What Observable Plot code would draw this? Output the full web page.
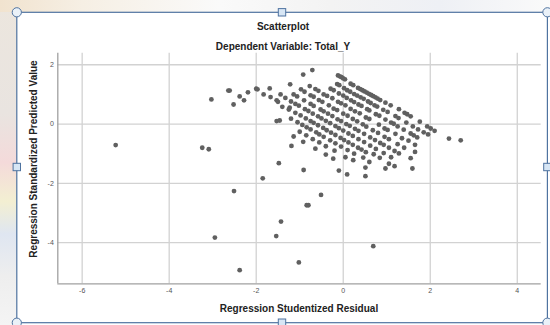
<!DOCTYPE html>
<html><head><meta charset="utf-8">
<script src="https://cdn.jsdelivr.net/npm/d3@7"></script>
<script src="https://cdn.jsdelivr.net/npm/@observablehq/plot@0.6"></script>
<style>
html,body{margin:0;padding:0;background:#fff;}
#wrap{position:relative;width:550px;height:325px;overflow:hidden;font-family:"Liberation Sans",Arial,sans-serif;background:#fff;}
#bgl{position:absolute;left:0;top:0;width:17px;height:325px;background:linear-gradient(#ece6de 0%,#e9e4e0 35%,#f4dada 50%,#f3efd2 62%,#dfe6f1 72%,#eeeeee 85%,#f4f4f4 100%);}
#bgt{position:absolute;left:0;top:0;width:550px;height:12px;background:linear-gradient(90deg,#f1e3cf 0%,#f6efe4 15%,#fafafa 40%,#f3f3f3 60%,#eef0f5 80%,#fafafa 100%);}
.t{position:absolute;left:0;width:566px;text-align:center;font-weight:bold;font-size:10px;color:#222;white-space:nowrap;}
#title{top:21px;}
#sub{top:40.5px;}
#chart{position:absolute;left:0;top:50px;}
#xt{position:absolute;top:302.5px;left:0;width:598px;text-align:center;font-weight:bold;font-size:10px;color:#222;}
#yt{position:absolute;left:33px;top:158.5px;transform:translate(-50%,-50%) rotate(-90deg);font-weight:bold;font-size:10px;color:#222;white-space:nowrap;}
#frame{position:absolute;left:0;top:0;}
</style></head><body>
<div id="wrap">
  <div id="bgl"></div>
  <div id="bgt"></div>
  <div class="t" id="title">Scatterplot</div>
  <div class="t" id="sub">Dependent Variable: Total_Y</div>
  <div id="chart"></div>
  <div id="xt">Regression Studentized Residual</div>
  <div id="yt">Regression Standardized Predicted Value</div>
</div>
<script>
// Axis ticks
const xTicks = [-6, -4, -2, 0, 2, 4];
const yTicks = [2, 0, -2, -4];

// Sparse points and outliers: [studentized residual, standardized predicted]
const sparse = [
  [-5.23,-0.71],[-3.24,-0.80],[-3.09,-0.85],[-3.03,0.83],[-2.64,1.13],[-2.61,1.13],[-2.52,0.66],
  [-2.38,0.93],[-2.28,0.80],[-2.19,1.07],[-2.00,1.19],[-1.97,1.17],[-1.83,1.00],[-1.69,1.20],
  [-1.67,0.91],[-1.53,0.80],[-1.50,0.75],[-1.44,1.00],[-1.40,0.58],[-1.33,0.88],[-1.25,0.49],
  [-1.23,0.55],[-1.22,1.34],[-1.53,0.10],[-1.46,0.12],[-1.19,-0.74],[-1.14,-0.42],[-1.48,-1.32],
  [-1.85,-1.83],[-2.51,-2.26],[-1.43,-3.29],[-1.54,-3.78],[-2.95,-3.83],[-2.38,-4.93],[-0.51,-2.39],
  [-0.84,-2.74],[-0.80,-2.74],[0.69,-4.12],[-1.02,-4.67],[-0.91,-1.55],[-0.92,1.67],[-0.71,1.82]
];

// Dense diagonal bands (band by band)
const band1 = [
  [-0.12,1.64],[-0.08,1.61],[-0.04,1.58],[0.00,1.54],[0.04,1.51],[0.17,1.36],[0.23,1.31],[0.34,1.22],
  [0.39,1.18],[0.44,1.14],[0.49,1.10],[0.54,1.06],[0.59,1.02],[0.64,0.98],[0.69,0.94],[0.74,0.90],
  [0.79,0.86],[0.85,0.81],[0.97,0.72],[1.09,0.63],[1.28,0.50],[1.41,0.38],[1.47,0.33],[1.55,0.26],
  [1.76,0.08],[1.93,-0.08],[2.01,-0.15],[2.10,-0.23],[2.43,-0.49],[2.70,-0.55]
];
const band2 = [
  [-0.14,1.35],[-0.09,1.31],[0.02,1.21],[0.09,1.14],[0.16,1.09],[0.25,1.01],[0.32,0.96],[0.40,0.90],
  [0.47,0.85],[0.57,0.76],[0.63,0.71],[0.72,0.63],[0.78,0.59],[0.92,0.48],[1.02,0.41],[1.20,0.27],
  [1.27,0.20],[1.45,0.05],[1.60,-0.08],[1.72,-0.18],[1.85,-0.28],[1.95,-0.35]
];
const band3 = [
  [-0.29,1.19],[-0.22,1.14],[-0.10,1.03],[0.00,0.96],[0.08,0.88],[0.18,0.80],[0.25,0.74],[0.35,0.66],
  [0.42,0.61],[0.55,0.50],[0.60,0.46],[0.75,0.33],[0.83,0.28],[0.97,0.15],[1.10,0.05],[1.16,0.01],
  [1.25,-0.08],[1.39,-0.19],[1.55,-0.32],[1.62,-0.38],[1.70,-0.45]
];
const band4 = [
  [-0.77,1.28],[-0.64,1.18],[-0.57,1.12],[-0.45,1.00],[-0.37,0.95],[-0.25,0.87],[-0.12,0.75],[-0.05,0.70],
  [0.05,0.63],[0.17,0.51],[0.27,0.43],[0.38,0.36],[0.52,0.22],[0.60,0.17],[0.82,-0.02],
  [0.95,-0.15],[1.02,-0.20],[1.20,-0.33],[1.35,-0.48],[1.50,-0.56],[1.65,-0.70]
];
const band5 = [
  [-0.97,1.17],[-0.89,1.09],[-0.75,0.97],[-0.68,0.92],[-0.56,0.81],[-0.48,0.75],[-0.33,0.63],
  [-0.22,0.52],[-0.14,0.47],[0.00,0.35],[0.10,0.28],[0.22,0.17],[0.32,0.09],[0.45,-0.01],[0.53,-0.09],
  [0.68,-0.21],[0.80,-0.30],[0.95,-0.43],[1.05,-0.51],[1.25,-0.68],[1.40,-0.80],[1.65,-0.94]
];
const band6 = [
  [-1.14,1.00],[-1.06,0.93],[-0.90,0.80],[-0.75,0.68],[-0.68,0.61],[-0.52,0.49],[-0.45,0.43],[-0.35,0.35],
  [-0.25,0.27],[-0.13,0.16],[-0.05,0.10],[0.07,0.00],[0.15,-0.06],[0.27,-0.16],[0.35,-0.23],[0.48,-0.33],
  [0.62,-0.45],[0.73,-0.54],[0.85,-0.64],[0.93,-0.70],[1.05,-0.80],[1.18,-0.91],[1.28,-0.99],[1.55,-1.15]
];
const band7 = [
  [-1.20,0.76],[-1.10,0.68],[-1.02,0.62],[-0.88,0.50],[-0.80,0.44],[-0.70,0.35],[-0.58,0.26],[-0.50,0.19],
  [-0.40,0.11],[-0.30,0.03],[-0.18,-0.07],[-0.10,-0.14],[0.00,-0.22],[0.12,-0.32],[0.22,-0.40],[0.35,-0.51],
  [0.48,-0.61],[0.62,-0.73],[0.75,-0.84],[0.93,-0.98],[1.10,-1.12],[1.59,-1.50]
];
const band8 = [
  [-1.10,0.38],[-0.98,0.29],[-0.86,0.19],[-0.75,0.10],[-0.68,0.04],[-0.58,-0.04],[-0.46,-0.13],[-0.38,-0.21],
  [-0.28,-0.29],[-0.18,-0.37],[-0.06,-0.47],[0.02,-0.54],[0.12,-0.62],[0.22,-0.70],[0.34,-0.80],[0.42,-0.86],
  [0.52,-0.95],[0.70,-1.02],[0.84,-1.14],[1.05,-1.34],[1.18,-1.42]
];
const band9 = [
  [-1.20,0.18],[-1.05,0.06],[-0.94,-0.03],[-0.84,-0.11],[-0.75,-0.18],[-0.62,-0.28],[-0.55,-0.35],[-0.45,-0.43],
  [-0.30,-0.55],[-0.18,-0.65],[-0.05,-0.76],[0.10,-0.88],[0.25,-1.00],[0.46,-1.13],[0.60,-1.28],[0.97,-1.50]
];
const band10 = [
  [-1.00,-0.26],[-0.85,-0.38],[-0.70,-0.51],[-0.55,-0.62],[-0.40,-0.75],[-0.20,-0.90],[0.05,-1.12],[0.23,-1.22],[0.51,-1.47]
];
const band11 = [
  [-0.92,-0.60],[-0.64,-0.83],[-0.40,-1.03],[-0.23,-1.17],[0.51,-1.76],[-0.10,-1.57],[0.09,-1.70]
];

const points = [].concat(sparse, band1, band2, band3, band4, band5, band6, band7, band8, band9, band10, band11)
  .map(([x, y]) => ({resid: x, pred: y}));

const xDomain = [-6.56, 4.55];
const yDomain = [-5.39, 2.39];

const chart = Plot.plot({
  width: 550,
  height: 275,
  marginLeft: 57.3,
  marginRight: 9.3,
  marginTop: 2.7,
  marginBottom: 41.7,
  style: {background: "transparent", fontFamily: "'Liberation Sans', Arial, sans-serif"},
  x: {domain: xDomain},
  y: {domain: yDomain},
  marks: [
    Plot.gridX(xTicks, {stroke: "#d2d2d2", strokeOpacity: 1, strokeWidth: 1.3}),
    Plot.gridY(yTicks, {stroke: "#d2d2d2", strokeOpacity: 1, strokeWidth: 1.3}),
    Plot.ruleX([xDomain[0]], {stroke: "#a0a0a0", strokeWidth: 1.3}),
    Plot.ruleY([yDomain[0]], {stroke: "#a0a0a0", strokeWidth: 1.3}),
    Plot.dot(points, {x: "resid", y: "pred", r: 2.4, fill: "#606060", stroke: "none"}),
    Plot.axisX(xTicks, {tickSize: 0, tickPadding: 4, fontSize: 7, fill: "#555", label: null, tickFormat: d => String(d)}),
    Plot.axisY(yTicks, {tickSize: 0, tickPadding: 4, fontSize: 7, fill: "#555", label: null, tickFormat: d => String(d)})
  ]
});
document.getElementById("chart").appendChild(chart);

// Selection frame with handles (decoration around the chart object)
const ns = "http://www.w3.org/2000/svg";
const f = document.createElementNS(ns, "svg");
f.setAttribute("id", "frame");
f.setAttribute("width", 550);
f.setAttribute("height", 325);
let s = `<rect x="16.8" y="12.3" width="530.6" height="310.4" fill="none" stroke="#4f73a0" stroke-width="1.2"/>`;
[[16.8,12.3],[547.4,12.3],[16.8,322.7],[547.4,322.7]].forEach(([cx,cy]) => {
  s += `<circle cx="${cx}" cy="${cy}" r="4.6" fill="#eaf1f8" stroke="#4f73a0" stroke-width="1"/>`;
});
[[282,12.3],[16.8,167],[547.4,167],[282,322.7]].forEach(([cx,cy]) => {
  s += `<rect x="${cx-3.7}" y="${cy-3.7}" width="7.4" height="7.4" fill="#d7e6f5" stroke="#4f73a0" stroke-width="1"/>`;
});
f.innerHTML = s;
document.getElementById("wrap").appendChild(f);
</script>
</body></html>
